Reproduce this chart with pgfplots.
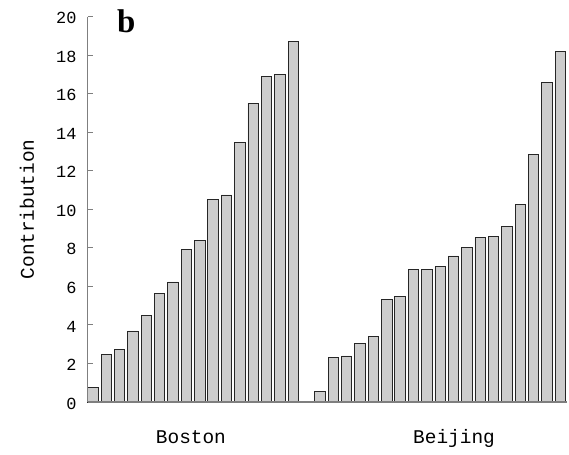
\documentclass[border=0pt]{standalone}
\usepackage{fontspec}
\usepackage{pgfplots}
\pgfplotsset{compat=1.18}
\setmainfont{Liberation Mono}
\newfontfamily\monof{Liberation Mono}
\newfontfamily\boldserif{Liberation Serif}
\definecolor{barfill}{HTML}{CCCCCC}
\definecolor{axgray}{HTML}{7F7F7F}
\begin{document}
\begin{tikzpicture}
\begin{axis}[
  scale only axis,
  width=479.3bp, height=385.3bp,
  xmin=-0.39, xmax=35.5,
  ymin=0, ymax=20,
  ytick={0,2,...,20},
  xtick={7.34,27.04},
  xticklabels={Boston,Beijing},
  axis x line=bottom, axis y line=left,
  axis line style={draw=axgray, line width=1.5bp, -},
  every tick/.style={draw=axgray, line width=1bp},
  ytick align=inside,
  major tick length=5.7bp,
  x tick style={draw=none},
  axis on top,
  /pgf/number format/assume math mode=true,
  yticklabel style={font=\fontsize{17}{17}\selectfont\monof, inner sep=0pt, anchor=east, xshift=-11bp, yshift=-1.5bp},
  xticklabel style={font=\fontsize{19.5}{20}\selectfont\monof, inner sep=0pt, anchor=base, yshift=-36bp},
  ylabel={Contribution},
  ylabel style={font=\fontsize{19.5}{20}\selectfont\monof, at={(axis description cs:-0.127,0.5)}, anchor=center, inner sep=0pt},
  ybar, bar width=0.78, bar shift=0pt,
  clip=false,
]
\addplot[fill=barfill, draw=black!85, line width=0.8bp] coordinates {
 (0,0.74) (1,2.49) (2,2.74) (3,3.69) (4,4.50) (5,5.65) (6,6.23) (7,7.93)
 (8,8.40) (9,10.51) (10,10.75) (11,13.47) (12,15.50) (13,16.88) (14,17.02) (15,18.72)
};
\addplot[fill=barfill, draw=black!85, line width=0.8bp] coordinates {
 (17,0.54) (18,2.30) (19,2.39) (20,3.04) (21,3.39) (22,5.33) (23,5.48) (24,6.88)
 (25,6.88) (26,7.02) (27,7.58) (28,8.03) (29,8.53) (30,8.58) (31,9.13) (32,10.24)
 (33,12.85) (34,16.57) (35,18.21)
};
\node[anchor=base west, inner sep=0pt, font=\fontsize{33}{33}\selectfont\boldserif\bfseries] at (rel axis cs:0.061,0.958) {b};
\end{axis}
\pgfresetboundingbox
\path[use as bounding box] (-87.7bp,-53bp) rectangle (481.3bp,402bp);
\end{tikzpicture}
\end{document}
